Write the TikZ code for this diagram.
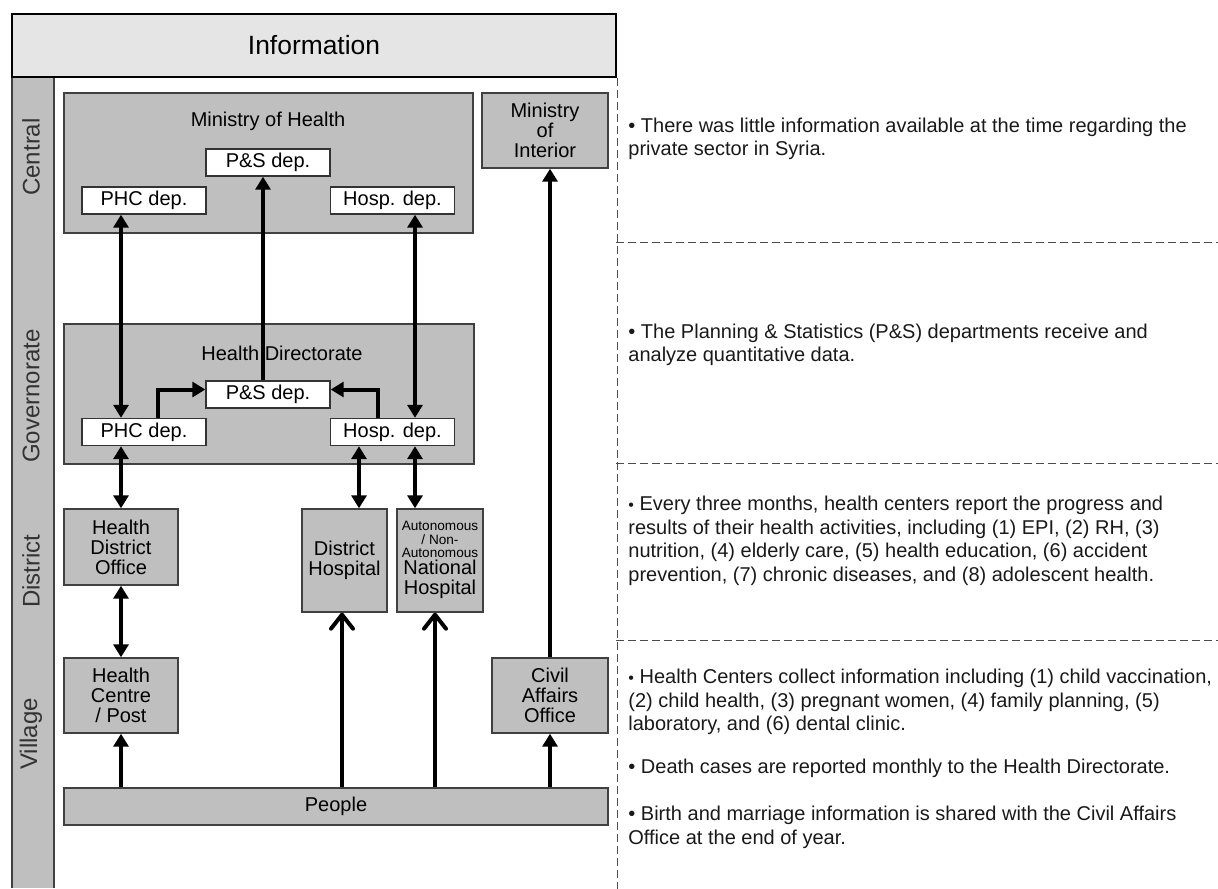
\documentclass[tikz,border=0pt]{standalone}
\usepackage{fontspec}
\setmainfont{Liberation Sans}
\usetikzlibrary{arrows.meta}

\tikzset{
  grp/.style={draw=black!75, fill=black!25, line width=0.7pt, inner sep=0pt},
  dep/.style={draw=black!80, fill=white, line width=0.7pt, inner sep=0pt,
    minimum width=62pt, minimum height=13.5pt, font=\fontsize{10}{10}\selectfont},
  unit/.style={grp, align=center, font=\fontsize{10}{10}\selectfont},
  lvl/.style={rotate=90, font=\fontsize{12}{12}\selectfont, text=black!80},
  note/.style={anchor=west, align=left, inner sep=0pt,
    font=\fontsize{10}{11.75}\selectfont, text=black!90},
  link/.style={line width=2pt, -{Triangle[length=6.5pt,width=7.5pt]}},
  dlink/.style={line width=2pt, {Triangle[length=6.5pt,width=7.5pt]}-{Triangle[length=6.5pt,width=7.5pt]}},
  olink/.style={line width=2pt, -{Straight Barb[length=7pt,width=11pt,round]}},
  sep/.style={draw=black!70, line width=0.5pt, dash pattern=on 4pt off 2pt},
}

\begin{document}
\begin{tikzpicture}[x=0.5pt, y=-0.5pt]
  \useasboundingbox (0,0) rectangle (1218,888);

  % Level strip
  \filldraw[fill=black!25, draw=black!75, line width=0.7pt]
    (12,888) -- (12,77) -- (54,77) -- (54,888);
  \node[lvl] (lcen) at (31,157) {Central};
  \node[lvl] (lgov) at (31,396) {Governorate};
  \node[lvl] (ldis) at (31,571) {District};
  \node[lvl] (lvil) at (31,734) {Village};

  % Header
  \node[draw=black, line width=1.25pt, fill=black!10, minimum width=302pt,
    minimum height=31.5pt, font=\fontsize{13.2}{14}\selectfont] (info) at (314,45.5) {Information};

  % Separators
  \draw[sep] (info.south east) -- ++(0,811);
  \foreach \y in {242,463,640}
    \draw[sep] (616,\y) -- (1218,\y);

  % Central
  \node[grp, minimum width=204.5pt, minimum height=70pt] (moh) at (268.5,163) {};
  \node[font=\fontsize{10}{10}\selectfont] (mohT) at (268,121) {Ministry of Health};
  \node[dep] (cps) at (268,162.5) {P\&S dep.};
  \node[dep] (cphc) at (144,200.5) {PHC dep.};
  \node[dep] (chosp) at (392.5,200.5) {Hosp. dep.};
  \node[unit, minimum width=63pt, minimum height=37.5pt] (moi) at (545,130.5) {Ministry\\of\\Interior};

  % Governorate
  \node[grp, minimum width=205pt, minimum height=70pt] (hd) at (269,394) {};
  \node[font=\fontsize{10}{10}\selectfont] (hdT) at (282,353) {Health Directorate};
  \node[dep] (gps) at (268,394.5) {P\&S dep.};
  \node[dep] (gphc) at (144,432) {PHC dep.};
  \node[dep] (ghosp) at (392.5,432) {Hosp. dep.};

  % District
  \node[unit, minimum width=57pt, minimum height=38pt] (hdo) at (121,547) {Health\\District\\Office};
  \node[unit, minimum width=42.5pt, minimum height=51.5pt] (dh) at (344.5,560.5) {District\\Hospital};
  \node[grp, minimum width=43pt, minimum height=51.5pt] (nh) at (440,560.5) {};
  \node[align=center, inner sep=0pt, font=\fontsize{6.8}{6.65}\selectfont] (nhA) at (440,539.5) {Autonomous\\/ Non-\\Autonomous};
  \node[align=center, inner sep=0pt, font=\fontsize{10}{10}\selectfont] (nhB) at (440,579) {National\\Hospital};

  % Village
  \node[unit, minimum width=57pt, minimum height=37.5pt] (hc) at (121,695.5) {Health\\Centre\\/ Post};
  \node[unit, minimum width=58pt, minimum height=37.5pt] (cao) at (550,695.5) {Civil\\Affairs\\Office};
  \node[unit, minimum width=272pt, minimum height=18.5pt] (people) at (336,806.5) {People};

  % Columns
  \coordinate (xL) at (121,0);
  \coordinate (xP) at (263,0);
  \coordinate (xH) at (415,0);
  \coordinate (xPu) at (158,0);
  \coordinate (xHu) at (378,0);
  \coordinate (xD) at (359,0);
  \coordinate (xDp) at (342,0);
  \coordinate (xNp) at (435,0);

  % Flows
  \draw[dlink] (cphc.south -| xL) -- (gphc.north -| xL);
  \draw[link] (gps.north -| xP) -- (cps.south -| xP);
  \draw[dlink] (chosp.south -| xH) -- (ghosp.north -| xH);
  \draw[link] (gphc.north -| xPu) |- ([yshift=2.5pt]gps.west);
  \draw[link] (ghosp.north -| xHu) |- ([yshift=2.5pt]gps.east);
  \draw[dlink] (gphc.south -| xL) -- (hdo.north);
  \draw[dlink] (ghosp.south -| xD) -- (dh.north -| xD);
  \draw[dlink] (ghosp.south -| xH) -- (nh.north -| xH);
  \draw[dlink] (hdo.south) -- (hc.north);
  \draw[link] (people.north -| hc) -- (hc.south);
  \draw[olink] (people.north -| xDp) -- (dh.south -| xDp);
  \draw[olink] (people.north -| xNp) -- (nh.south -| xNp);
  \draw[link] (people.north -| cao) -- (cao.south);
  \draw[link] (cao.north) -- (moi.south -| cao.north);

  % Notes
  \node[note] (n1) at (628,139) {• There was little information available at the time regarding the\\private sector in Syria.};
  \node[note] (n2) at (628,345) {• The Planning \& Statistics (P\&S) departments receive and\\analyze quantitative data.};
  \node[note] (n3) at (628,541) {{\footnotesize•} Every three months, health centers report the progress and\\results of their health activities, including (1) EPI, (2) RH, (3)\\nutrition, (4) elderly care, (5) health education, (6) accident\\prevention, (7) chronic diseases, and (8) adolescent health.};
  \node[note] (n4) at (628,702) {{\footnotesize•} Health Centers collect information including (1) child vaccination,\\(2) child health, (3) pregnant women, (4) family planning, (5)\\laboratory, and (6) dental clinic.};
  \node[note] (n5) at (628,768) {• Death cases are reported monthly to the Health Directorate.};
  \node[note] (n6) at (628,827.5) {• Birth and marriage information is shared with the Civil Affairs\\Office at the end of year.};
\end{tikzpicture}
\end{document}
